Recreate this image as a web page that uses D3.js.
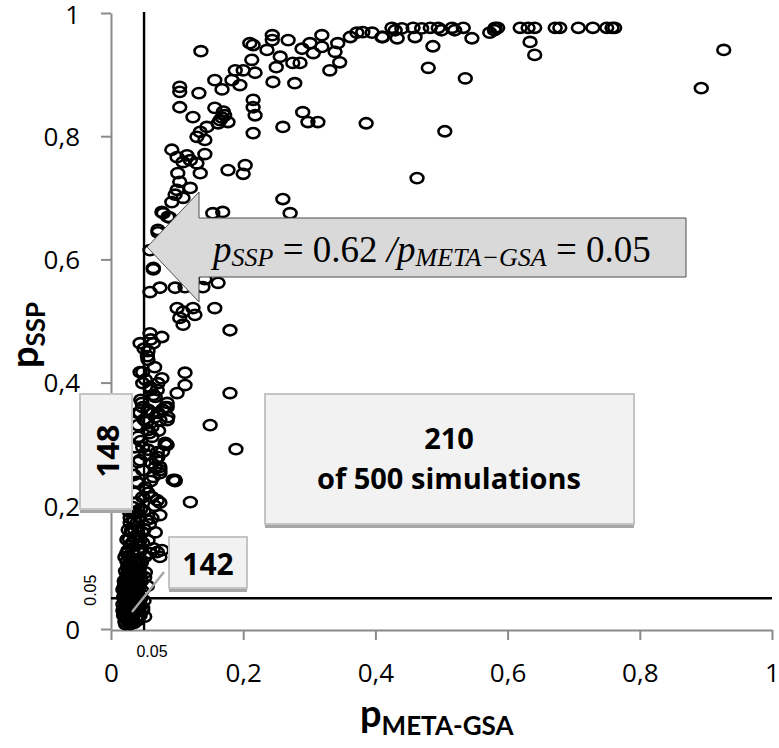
<!DOCTYPE html>
<html>
<head>
<meta charset="utf-8">
<script src="https://cdn.jsdelivr.net/npm/d3@7"></script>
<style>
  body { margin: 0; background: #fff; }
  svg { display: block; font-family: 'Open Sans', Lato, sans-serif; font-variant-ligatures: none; }
</style>
</head>
<body>
<div id="chart"></div>
<script>
// p_META-GSA / p_SSP pairs, grouped by region
const plateau = [
  [0.425,0.976],[0.457,0.976],[0.483,0.976],[0.495,0.976],[0.516,0.976],[0.533,0.976],
  [0.581,0.976],[0.585,0.976],[0.619,0.976],[0.631,0.976],[0.641,0.976],[0.672,0.976],
  [0.679,0.976],[0.707,0.976],[0.729,0.976],[0.750,0.976],[0.758,0.976],[0.762,0.976],
  [0.411,0.961],[0.433,0.959],[0.460,0.961],[0.487,0.946],[0.480,0.911],[0.546,0.959],
  [0.573,0.968],[0.634,0.953],[0.641,0.932],[0.536,0.894],[0.505,0.808],[0.463,0.732],
  [0.927,0.940],[0.893,0.878],[0.362,0.961],[0.372,0.968],[0.381,0.969],[0.395,0.968],
  [0.410,0.961],[0.430,0.972],[0.440,0.975],[0.470,0.975],[0.500,0.972],[0.520,0.972],[0.580,0.972]
]

const risingBand = [
  [0.136,0.938],[0.104,0.880],[0.104,0.872],[0.133,0.870],[0.104,0.847],[0.124,0.831],
  [0.157,0.891],[0.168,0.876],[0.183,0.891],[0.188,0.907],[0.200,0.907],[0.195,0.883],
  [0.213,0.924],[0.215,0.948],[0.210,0.951],[0.218,0.903],[0.236,0.940],[0.244,0.964],
  [0.244,0.956],[0.256,0.929],[0.250,0.912],[0.268,0.956],[0.275,0.919],[0.286,0.919],
  [0.289,0.942],[0.301,0.951],[0.306,0.935],[0.319,0.964],[0.319,0.945],[0.331,0.907],
  [0.339,0.937],[0.346,0.920],[0.343,0.951],[0.245,0.888],[0.278,0.886],
  [0.157,0.846],[0.168,0.830],[0.172,0.834],[0.177,0.823],[0.162,0.821],[0.170,0.840],[0.165,0.826],
  [0.215,0.859],[0.215,0.847],[0.218,0.834],[0.215,0.805],[0.260,0.815],[0.290,0.839],
  [0.298,0.823],[0.313,0.823],[0.386,0.821],
  [0.135,0.807],[0.130,0.799],[0.142,0.794],[0.145,0.815],[0.092,0.778],[0.100,0.766],
  [0.115,0.769],[0.120,0.761],[0.109,0.758],[0.130,0.756],[0.142,0.771],[0.101,0.740],
  [0.104,0.726],[0.135,0.740],[0.120,0.716],[0.100,0.713],[0.092,0.693],[0.077,0.677],
  [0.086,0.669],[0.071,0.648],[0.177,0.745],[0.203,0.753],[0.200,0.739],[0.260,0.698],
  [0.271,0.675],[0.154,0.675],[0.169,0.677],[0.079,0.675],[0.089,0.668],[0.071,0.644],
  [0.059,0.615],[0.064,0.586],[0.109,0.700],[0.097,0.705]
]

const middle = [
  [0.064,0.584],[0.059,0.547],[0.074,0.554],[0.097,0.554],[0.112,0.555],[0.139,0.555],
  [0.162,0.562],[0.142,0.568],[0.100,0.521],[0.109,0.515],[0.124,0.521],[0.127,0.510],
  [0.104,0.505],[0.109,0.494],[0.157,0.521],[0.180,0.485],[0.059,0.480],[0.077,0.474],
  [0.044,0.464],[0.064,0.464],[0.056,0.451],[0.056,0.437],[0.048,0.417],[0.112,0.416],
  [0.077,0.407],[0.071,0.399],[0.112,0.396],[0.100,0.383],[0.059,0.393],[0.180,0.383],
  [0.064,0.380],[0.085,0.360],[0.048,0.360],[0.044,0.351],[0.071,0.351],[0.150,0.331],
  [0.054,0.336],[0.085,0.339],[0.189,0.292],[0.120,0.206],[0.097,0.242],[0.074,0.253],[0.082,0.299]
]

const column = [
  [0.044,0.417],[0.067,0.377],[0.047,0.367],[0.082,0.360],[0.041,0.351],[0.056,0.356],
  [0.067,0.344],[0.086,0.344],[0.041,0.331],[0.062,0.328],[0.041,0.312],[0.062,0.312],
  [0.082,0.302],[0.036,0.295],[0.056,0.291],[0.071,0.279],[0.041,0.271],[0.062,0.269],
  [0.048,0.399],[0.070,0.388],[0.085,0.367],[0.056,0.352],[0.074,0.339],[0.056,0.323],
  [0.085,0.299],[0.048,0.295],[0.070,0.287],[0.044,0.274],[0.074,0.263],[0.064,0.247],
  [0.094,0.242],[0.041,0.237],[0.056,0.221],[0.048,0.214],[0.070,0.209],[0.039,0.188],
  [0.029,0.172],[0.054,0.177],[0.074,0.185],[0.032,0.156],[0.044,0.144],[0.024,0.123],
  [0.070,0.125],[0.044,0.104],[0.026,0.091],
  [0.067,0.263],[0.074,0.258],[0.097,0.240],[0.039,0.239],[0.036,0.221],[0.062,0.214],
  [0.074,0.205],[0.033,0.198],[0.029,0.180],[0.039,0.172],[0.062,0.180],[0.026,0.161],
  [0.047,0.157],[0.067,0.157],[0.056,0.144],[0.026,0.128],[0.041,0.128],[0.064,0.131],
  [0.077,0.128],[0.021,0.117],[0.051,0.117],[0.036,0.101],[0.051,0.084],[0.026,0.080],
  [0.041,0.068],[0.074,0.117],[0.059,0.123],
  [0.030,0.135],[0.036,0.150],[0.050,0.162],[0.058,0.170],[0.034,0.190],[0.045,0.195],
  [0.066,0.200],[0.038,0.205],[0.052,0.230],[0.060,0.240],[0.035,0.250],[0.048,0.258],
  [0.068,0.275],[0.052,0.283],[0.078,0.288],[0.045,0.305],[0.058,0.318],[0.072,0.322],
  [0.050,0.340],[0.063,0.350],[0.078,0.356],[0.045,0.372],[0.060,0.388],[0.052,0.405],
  [0.066,0.425],[0.055,0.443],[0.060,0.470],[0.050,0.455]
]

const originCluster = [
  [0.019,0.022],[0.022,0.018],[0.026,0.024],[0.030,0.020],[0.034,0.026],[0.020,0.030],
  [0.025,0.034],[0.030,0.032],[0.036,0.036],[0.040,0.030],[0.018,0.040],[0.022,0.044],
  [0.028,0.042],[0.033,0.046],[0.038,0.044],[0.042,0.040],[0.019,0.052],[0.024,0.056],
  [0.029,0.054],[0.035,0.058],[0.040,0.056],[0.045,0.050],[0.018,0.064],[0.023,0.068],
  [0.028,0.066],[0.032,0.072],[0.037,0.070],[0.042,0.066],[0.047,0.062],[0.020,0.078],
  [0.026,0.082],[0.031,0.086],[0.036,0.080],[0.041,0.084],[0.046,0.078],[0.022,0.094],
  [0.027,0.098],[0.033,0.100],[0.038,0.094],[0.043,0.098],[0.018,0.030],[0.021,0.012],
  [0.027,0.010],[0.033,0.014],[0.038,0.018],[0.044,0.022],[0.048,0.034],[0.050,0.046],
  [0.024,0.110],[0.030,0.114],[0.035,0.120],[0.040,0.112],[0.046,0.108],[0.052,0.092],
  [0.055,0.070],[0.021,0.058],[0.033,0.047],[0.021,0.036],[0.036,0.026],[0.024,0.015],
  [0.032,0.015],[0.048,0.031],[0.051,0.020],[0.024,0.031],[0.033,0.068],[0.020,0.052],
  [0.023,0.026],[0.027,0.028],[0.031,0.024],[0.035,0.040],[0.027,0.048],[0.031,0.060],
  [0.026,0.062],[0.038,0.062],[0.043,0.074],[0.029,0.076],[0.034,0.090],[0.024,0.088],
  [0.039,0.104],[0.029,0.106],[0.044,0.088],[0.020,0.070],[0.041,0.046],[0.045,0.038],
  [0.025,0.040],[0.030,0.038],[0.034,0.052],[0.039,0.076],[0.027,0.118],[0.033,0.128],
  [0.038,0.136],[0.028,0.146],[0.043,0.124],[0.048,0.140],[0.031,0.160],[0.040,0.166],
  [0.024,0.145],[0.035,0.176],[0.043,0.182],[0.050,0.190],[0.028,0.190],
  [0.022,0.008],[0.026,0.014],[0.029,0.008],[0.035,0.010],[0.040,0.014],[0.020,0.024],
  [0.028,0.030],[0.032,0.036],[0.037,0.030],[0.042,0.034],[0.023,0.048],[0.027,0.052],
  [0.031,0.050],[0.036,0.050],[0.022,0.060],[0.026,0.072],[0.030,0.064],[0.034,0.064],
  [0.039,0.068],[0.023,0.080],[0.028,0.086],[0.033,0.078],[0.038,0.086],[0.025,0.100],
  [0.030,0.094],[0.036,0.108],[0.041,0.094],[0.032,0.140],[0.036,0.160],[0.042,0.150]
]

const ticks = [0, 0.2, 0.4, 0.6, 0.8, 1]
const threshold = 0.05
const arrowText = [
  { t: 'p', sub: false }, { t: 'SSP', sub: true }, { t: ' = 0.62 ', sub: false, plain: true },
  { t: '/', sub: false }, { t: 'p', sub: false }, { t: 'META\u2212GSA', sub: true },
  { t: ' = 0.05', sub: false, plain: true }
]
const boxLabels = { left: '148', corner: '142', mainTop: '210', mainBottom: 'of 500 simulations' }

const width = 779, height = 748
const svg = d3.select('#chart').append('svg')
  .attr('width', width)
  .attr('height', height)

const x = d3.scaleLinear().domain([0, 1]).range([111, 772])
const y = d3.scaleLinear().domain([0, 1]).range([629, 13])

const fmt = d => d === 0 ? '0' : d === 1 ? '1' : String(d).replace('.', ',')
const axisGrey = '#8a8a8a'

// axes
const gx = svg.append('g')
  .attr('transform', `translate(0,${y(0) + 1})`)
  .call(d3.axisBottom(x).tickValues(ticks).tickFormat(fmt).tickSize(10).tickSizeOuter(0))
const gy = svg.append('g')
  .attr('transform', `translate(${x(0)},0)`)
  .call(d3.axisLeft(y).tickValues(ticks).tickFormat(fmt).tickSize(10).tickSizeOuter(0).tickPadding(21))

for (const g of [gx, gy]) {
  g.select('.domain').attr('stroke', axisGrey).attr('stroke-width', 2)
  g.selectAll('.tick line').attr('stroke', axisGrey).attr('stroke-width', 2)
  g.selectAll('.tick text')
    .attr('fill', '#000')
    .style('font-family', "'Open Sans', sans-serif")
    .style('font-size', '26px')
}
gx.selectAll('.tick text').attr('dy', null).attr('y', 52)
gy.selectAll('.tick text').attr('dy', d => d === 1 ? '0.42em' : '0.36em')

// points
const allPoints = [...plateau, ...risingBand, ...middle, ...column, ...originCluster]
svg.append('g')
  .selectAll('ellipse')
  .data(allPoints)
  .join('ellipse')
  .attr('cx', d => x(d[0]))
  .attr('cy', d => y(d[1]))
  .attr('rx', 6.4)
  .attr('ry', 5.1)
  .attr('fill', 'none')
  .attr('stroke', '#000')
  .attr('stroke-width', 2.6)

// threshold lines
svg.append('line')
  .attr('x1', x(threshold)).attr('x2', x(threshold))
  .attr('y1', y(1) - 1).attr('y2', y(0) + 1)
  .attr('stroke', '#000').attr('stroke-width', 2.4)
svg.append('line')
  .attr('x1', x(0)).attr('x2', x(1))
  .attr('y1', y(threshold)).attr('y2', y(threshold))
  .attr('stroke', '#000').attr('stroke-width', 2.4)

svg.append('text')
  .attr('x', x(threshold) + 8).attr('y', 657)
  .attr('text-anchor', 'middle')
  .style('font-family', "'Liberation Sans', Arial, sans-serif")
  .style('font-size', '16px')
  .text('0.05')
svg.append('text')
  .attr('transform', `translate(96,${y(threshold) - 8}) rotate(-90)`)
  .attr('text-anchor', 'middle')
  .style('font-family', "'Liberation Sans', Arial, sans-serif")
  .style('font-size', '16px')
  .text('0.05')

// axis titles
const xt = svg.append('text')
  .attr('x', 360).attr('y', 727)
  .style('font-family', 'Lato, sans-serif')
  .style('font-weight', 'bold').style('font-size', '38px')
xt.append('tspan').text('p')
xt.append('tspan').attr('dy', 8).style('font-size', '26px').text('META-GSA')

const yt = svg.append('text')
  .attr('transform', 'translate(38,368) rotate(-90)')
  .style('font-family', 'Lato, sans-serif')
  .style('font-weight', 'bold').style('font-size', '38px')
yt.append('tspan').text('p')
yt.append('tspan').attr('dy', 7).style('font-size', '26px').text('SSP')

// shaded annotation boxes
function box(x0, y0, w, h) {
  svg.append('rect')
    .attr('x', x0).attr('y', y0 + 4).attr('width', w).attr('height', h)
    .attr('fill', '#a6a6a6')
  svg.append('rect')
    .attr('x', x0).attr('y', y0).attr('width', w).attr('height', h)
    .attr('fill', '#f2f2f2').attr('stroke', '#c4c4c4').attr('stroke-width', 2)
}

box(265, 394, 369, 130)
svg.append('text')
  .attr('x', 449).attr('y', 449).attr('text-anchor', 'middle')
  .style('font-weight', 'bold').style('font-size', '29px')
  .text(boxLabels.mainTop)
svg.append('text')
  .attr('x', 449).attr('y', 489).attr('text-anchor', 'middle')
  .style('font-weight', 'bold').style('font-size', '29px')
  .text(boxLabels.mainBottom)

box(80, 394, 52, 115)
svg.append('text')
  .attr('transform', 'translate(119,451) rotate(-90)')
  .attr('text-anchor', 'middle')
  .style('font-weight', 'bold').style('font-size', '31px')
  .text(boxLabels.left)

box(169, 537, 78, 51)
svg.append('text')
  .attr('x', 208).attr('y', 575).attr('text-anchor', 'middle')
  .style('font-weight', 'bold').style('font-size', '30px')
  .text(boxLabels.corner)

// leader line from the corner box into the cluster
svg.append('line')
  .attr('x1', 132).attr('y1', 612).attr('x2', 164).attr('y2', 572)
  .attr('stroke', '#a6a6a6').attr('stroke-width', 2.5)

// arrow callout pointing at the threshold line
const tipX = x(threshold) + 3, tipY = 247
const arrow = d3.path()
arrow.moveTo(tipX, tipY)
arrow.lineTo(199, 192)
arrow.lineTo(199, 218)
arrow.lineTo(686, 218)
arrow.lineTo(686, 277)
arrow.lineTo(199, 277)
arrow.lineTo(199, 302)
arrow.closePath()
svg.append('path')
  .attr('d', arrow.toString())
  .attr('fill', '#d9d9d9')
  .attr('stroke', '#4d4d4d')
  .attr('stroke-width', 1)

const at = svg.append('text')
  .attr('x', 213).attr('y', 262)
  .style('font-family', "'Liberation Serif', 'DejaVu Serif', serif")
  .style('font-style', 'italic')
  .style('font-size', '37px')
arrowText.forEach((p, i) => {
  const prevSub = i > 0 && arrowText[i - 1].sub
  at.append('tspan')
    .attr('dy', p.sub ? 4 : prevSub ? -4 : 0)
    .style('font-size', p.sub ? '26px' : null)
    .style('font-style', p.plain ? 'normal' : null)
    .text(p.t)
})
</script>
</body>
</html>
